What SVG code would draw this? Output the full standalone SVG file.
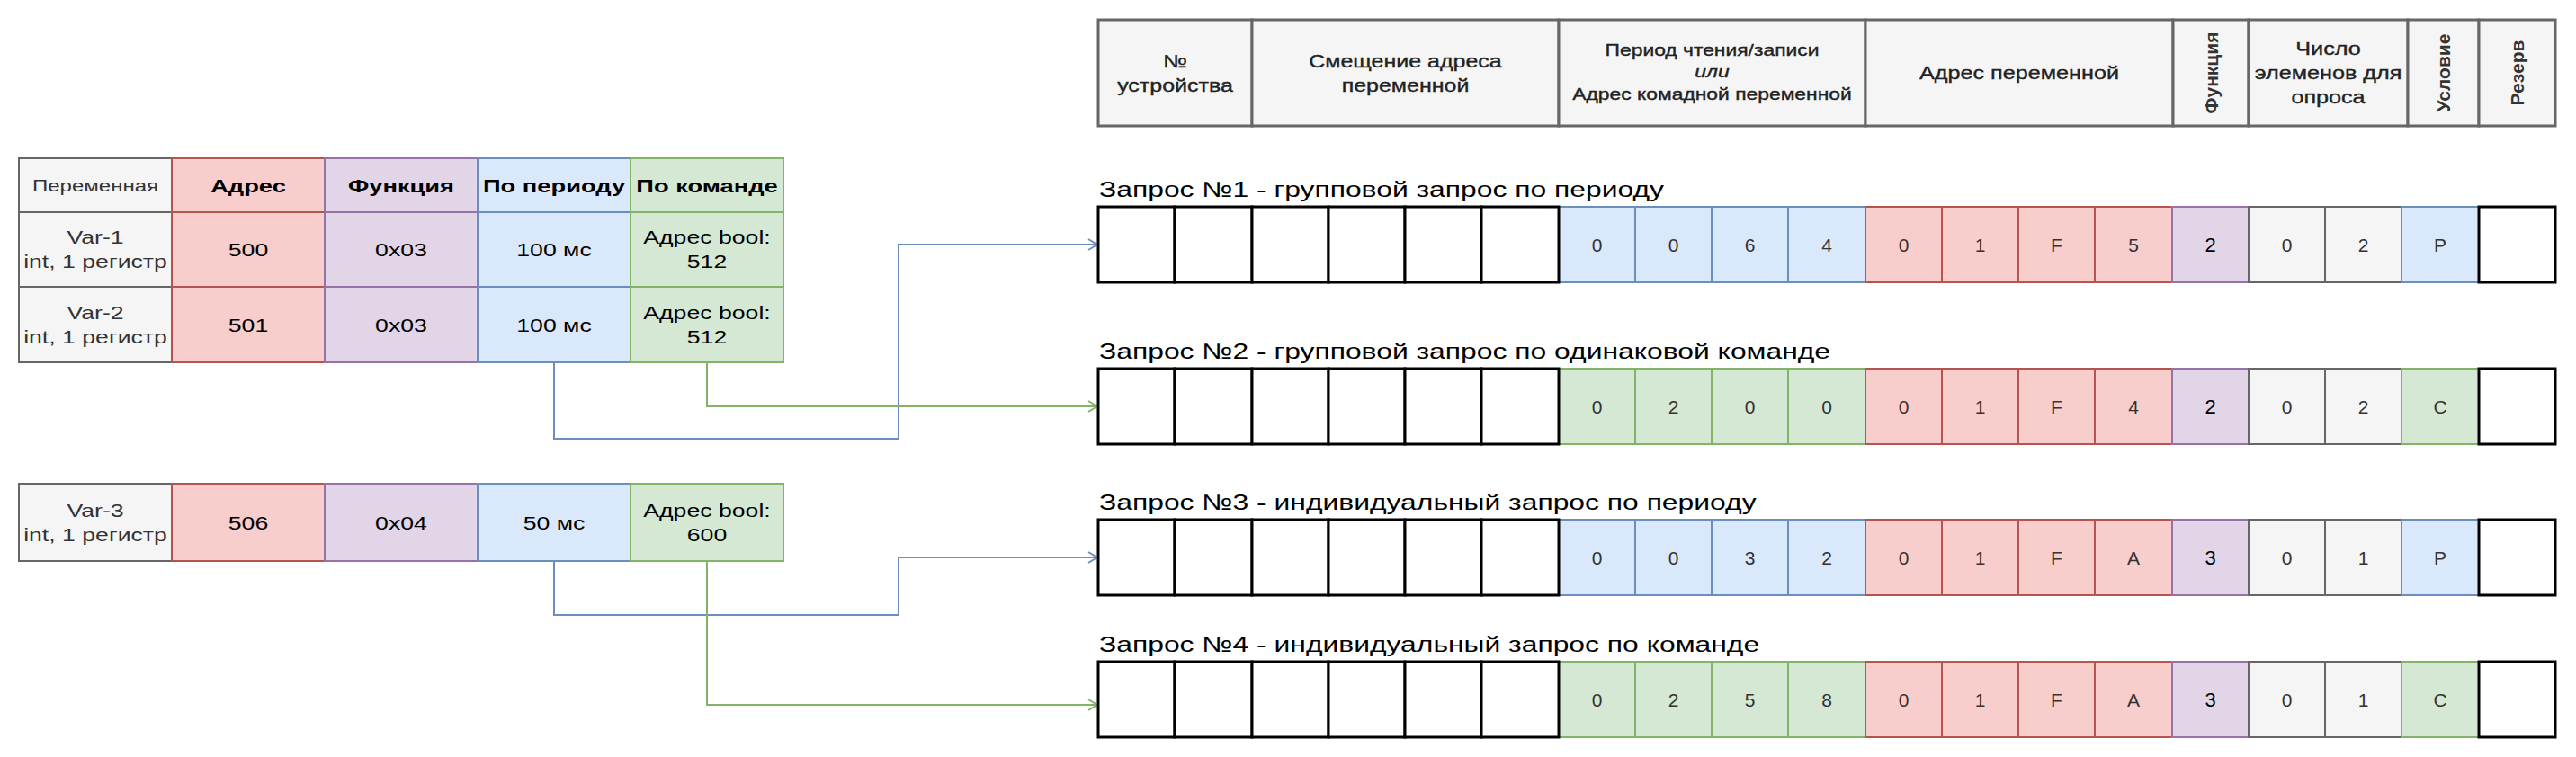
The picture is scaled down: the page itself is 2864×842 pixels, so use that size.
<svg xmlns="http://www.w3.org/2000/svg" width="2864" height="842" viewBox="0 0 2864 842">
<defs>
<style>
text{font-family:"Liberation Sans",Arial,sans-serif;}
.cg{fill:#f5f5f5;stroke:#666666;stroke-width:2}
.cr{fill:#f8cecc;stroke:#b85450;stroke-width:2}
.cp{fill:#e1d5e7;stroke:#9673a6;stroke-width:2}
.cb{fill:#dae8fc;stroke:#6c8ebf;stroke-width:2}
.cn{fill:#d5e8d4;stroke:#82b366;stroke-width:2}
.ck{fill:#ffffff;stroke:#000000;stroke-width:3}
.hd{fill:#f5f5f5;stroke:#666666;stroke-width:3}
.tb{font-size:20.5px;text-anchor:middle;fill:#000}
.tg{font-size:20.5px;text-anchor:middle;fill:#333}
.th{font-size:21px;font-weight:bold;text-anchor:middle;fill:#000}
.tv{font-size:18.5px;text-anchor:middle;fill:#333}
.hh{font-size:20px;text-anchor:middle;fill:#222;stroke:#222;stroke-width:0.35px}
.hs{font-size:18px;text-anchor:middle;fill:#222;stroke:#222;stroke-width:0.35px}
.vb{font-size:21px;font-weight:bold;text-anchor:middle;fill:#333}
.ti{font-size:24.5px;fill:#000}
.d{font-size:21px;text-anchor:middle;fill:#333}
.dp{font-size:22px;text-anchor:middle;fill:#000}
.lb{fill:none;stroke:#6c8ebf;stroke-width:2}
.lg{fill:none;stroke:#82b366;stroke-width:2}
</style>
<marker id="ab" viewBox="0 0 12 14" refX="11" refY="7" markerWidth="12" markerHeight="14" markerUnits="userSpaceOnUse" orient="auto"><path d="M1,1 L11,7 L1,13" fill="none" stroke="#6c8ebf" stroke-width="2"/></marker>
<marker id="ag" viewBox="0 0 12 14" refX="11" refY="7" markerWidth="12" markerHeight="14" markerUnits="userSpaceOnUse" orient="auto"><path d="M1,1 L11,7 L1,13" fill="none" stroke="#82b366" stroke-width="2"/></marker>
</defs>
<rect width="2864" height="842" fill="#ffffff"/>

<g id="vars-table-1">
<rect class="cg" x="21" y="176" width="170" height="60"/>
<rect class="cr" x="191" y="176" width="170" height="60"/>
<rect class="cp" x="361" y="176" width="170" height="60"/>
<rect class="cb" x="531" y="176" width="170" height="60"/>
<rect class="cn" x="701" y="176" width="170" height="60"/>
<rect class="cg" x="21" y="236" width="170" height="83"/>
<rect class="cr" x="191" y="236" width="170" height="83"/>
<rect class="cp" x="361" y="236" width="170" height="83"/>
<rect class="cb" x="531" y="236" width="170" height="83"/>
<rect class="cn" x="701" y="236" width="170" height="83"/>
<rect class="cg" x="21" y="319" width="170" height="84"/>
<rect class="cr" x="191" y="319" width="170" height="84"/>
<rect class="cp" x="361" y="319" width="170" height="84"/>
<rect class="cb" x="531" y="319" width="170" height="84"/>
<rect class="cn" x="701" y="319" width="170" height="84"/>
<text class="tv" transform="translate(106 212.5) scale(1.3 1)">Переменная</text>
<text class="th" transform="translate(276 213.5) scale(1.3 1)">Адрес</text>
<text class="th" transform="translate(446 213.5) scale(1.3 1)">Функция</text>
<text class="th" transform="translate(616 213.5) scale(1.3 1)">По периоду</text>
<text class="th" transform="translate(786 213.5) scale(1.3 1)">По команде</text>
<text class="tg" transform="translate(106 271) scale(1.3 1)">Var-1</text>
<text class="tg" transform="translate(106 298) scale(1.3 1)">int, 1 регистр</text>
<text class="tb" transform="translate(276 285) scale(1.3 1)">500</text>
<text class="tb" transform="translate(446 285) scale(1.3 1)">0x03</text>
<text class="tb" transform="translate(616 285) scale(1.3 1)">100 мс</text>
<text class="tb" transform="translate(786 271) scale(1.3 1)">Адрес bool:</text>
<text class="tb" transform="translate(786 298) scale(1.3 1)">512</text>
<text class="tg" transform="translate(106 354.5) scale(1.3 1)">Var-2</text>
<text class="tg" transform="translate(106 381.5) scale(1.3 1)">int, 1 регистр</text>
<text class="tb" transform="translate(276 368.5) scale(1.3 1)">501</text>
<text class="tb" transform="translate(446 368.5) scale(1.3 1)">0x03</text>
<text class="tb" transform="translate(616 368.5) scale(1.3 1)">100 мс</text>
<text class="tb" transform="translate(786 354.5) scale(1.3 1)">Адрес bool:</text>
<text class="tb" transform="translate(786 381.5) scale(1.3 1)">512</text>
</g>

<g id="vars-table-2">
<rect class="cg" x="21" y="538" width="170" height="86"/>
<rect class="cr" x="191" y="538" width="170" height="86"/>
<rect class="cp" x="361" y="538" width="170" height="86"/>
<rect class="cb" x="531" y="538" width="170" height="86"/>
<rect class="cn" x="701" y="538" width="170" height="86"/>
<text class="tg" transform="translate(106 574.5) scale(1.3 1)">Var-3</text>
<text class="tg" transform="translate(106 601.5) scale(1.3 1)">int, 1 регистр</text>
<text class="tb" transform="translate(276 588.5) scale(1.3 1)">506</text>
<text class="tb" transform="translate(446 588.5) scale(1.3 1)">0x04</text>
<text class="tb" transform="translate(616 588.5) scale(1.3 1)">50 мс</text>
<text class="tb" transform="translate(786 574.5) scale(1.3 1)">Адрес bool:</text>
<text class="tb" transform="translate(786 601.5) scale(1.3 1)">600</text>
</g>

<g id="connectors">
<path class="lb" d="M616 403 V488 H999 V272 H1220" marker-end="url(#ab)"/>
<path class="lg" d="M786 403 V452 H1220" marker-end="url(#ag)"/>
<path class="lb" d="M616 624 V684 H999 V620 H1220" marker-end="url(#ab)"/>
<path class="lg" d="M786 624 V784 H1220" marker-end="url(#ag)"/>
</g>

<g id="frame-header">
<rect class="hd" x="1221" y="22" width="171" height="118"/>
<rect class="hd" x="1392" y="22" width="341" height="118"/>
<rect class="hd" x="1733" y="22" width="341" height="118"/>
<rect class="hd" x="2074" y="22" width="342" height="118"/>
<rect class="hd" x="2416" y="22" width="84" height="118"/>
<rect class="hd" x="2500" y="22" width="177" height="118"/>
<rect class="hd" x="2677" y="22" width="79" height="118"/>
<rect class="hd" x="2756" y="22" width="85" height="118"/>
<text class="hh" transform="translate(1306.5 75) scale(1.25 1)">№</text>
<text class="hh" transform="translate(1306.5 102) scale(1.25 1)">устройства</text>
<text class="hh" transform="translate(1562.5 75) scale(1.25 1)">Смещение адреса</text>
<text class="hh" transform="translate(1562.5 102) scale(1.25 1)">переменной</text>
<text class="hs" transform="translate(1903.5 61.5) scale(1.27 1)">Период чтения/записи</text>
<text class="hs" transform="translate(1903.5 85.5) scale(1.27 1)" font-style="italic">или</text>
<text class="hs" transform="translate(1903.5 110.5) scale(1.27 1)">Адрес комадной переменной</text>
<text class="hh" transform="translate(2245 88) scale(1.26 1)">Адрес переменной</text>
<text class="vb" transform="translate(2465.5 81) rotate(-90)">Функция</text>
<text class="hh" transform="translate(2588.5 61) scale(1.26 1)">Число</text>
<text class="hh" transform="translate(2588.5 88) scale(1.26 1)">элеменов для</text>
<text class="hh" transform="translate(2588.5 115) scale(1.26 1)">опроса</text>
<text class="vb" transform="translate(2724 81) rotate(-90)">Условие</text>
<text class="vb" transform="translate(2806 81) rotate(-90)">Резерв</text>
</g>

<g id="request-1">
<text class="ti" transform="translate(1222 219) scale(1.3 1)">Запрос №1 - групповой запрос по периоду</text>
<rect class="cb" x="1733" y="230" width="85" height="84"/>
<rect class="cb" x="1818" y="230" width="85" height="84"/>
<rect class="cb" x="1903" y="230" width="85" height="84"/>
<rect class="cb" x="1988" y="230" width="86" height="84"/>
<rect class="cr" x="2074" y="230" width="85" height="84"/>
<rect class="cr" x="2159" y="230" width="85" height="84"/>
<rect class="cr" x="2244" y="230" width="85" height="84"/>
<rect class="cr" x="2329" y="230" width="86" height="84"/>
<rect class="cp" x="2415" y="230" width="85" height="84"/>
<rect class="cg" x="2500" y="230" width="85" height="84"/>
<rect class="cg" x="2585" y="230" width="85" height="84"/>
<rect class="cb" x="2670" y="230" width="86" height="84"/>
<rect class="ck" x="1221" y="230" width="85" height="84"/>
<rect class="ck" x="1306" y="230" width="86" height="84"/>
<rect class="ck" x="1392" y="230" width="85" height="84"/>
<rect class="ck" x="1477" y="230" width="85" height="84"/>
<rect class="ck" x="1562" y="230" width="85" height="84"/>
<rect class="ck" x="1647" y="230" width="86" height="84"/>
<rect class="ck" x="2756" y="230" width="85" height="84"/>
<text class="d" x="1775.5" y="279.5">0</text>
<text class="d" x="1860.5" y="279.5">0</text>
<text class="d" x="1945.5" y="279.5">6</text>
<text class="d" x="2031" y="279.5">4</text>
<text class="d" x="2116.5" y="279.5">0</text>
<text class="d" x="2201.5" y="279.5">1</text>
<text class="d" x="2286.5" y="279.5">F</text>
<text class="d" x="2372" y="279.5">5</text>
<text class="dp" x="2457.5" y="280">2</text>
<text class="d" x="2542.5" y="279.5">0</text>
<text class="d" x="2627.5" y="279.5">2</text>
<text class="d" x="2713" y="279.5">P</text>
</g>

<g id="request-2">
<text class="ti" transform="translate(1222 399) scale(1.3 1)">Запрос №2 - групповой запрос по одинаковой команде</text>
<rect class="cn" x="1733" y="410" width="85" height="84"/>
<rect class="cn" x="1818" y="410" width="85" height="84"/>
<rect class="cn" x="1903" y="410" width="85" height="84"/>
<rect class="cn" x="1988" y="410" width="86" height="84"/>
<rect class="cr" x="2074" y="410" width="85" height="84"/>
<rect class="cr" x="2159" y="410" width="85" height="84"/>
<rect class="cr" x="2244" y="410" width="85" height="84"/>
<rect class="cr" x="2329" y="410" width="86" height="84"/>
<rect class="cp" x="2415" y="410" width="85" height="84"/>
<rect class="cg" x="2500" y="410" width="85" height="84"/>
<rect class="cg" x="2585" y="410" width="85" height="84"/>
<rect class="cn" x="2670" y="410" width="86" height="84"/>
<rect class="ck" x="1221" y="410" width="85" height="84"/>
<rect class="ck" x="1306" y="410" width="86" height="84"/>
<rect class="ck" x="1392" y="410" width="85" height="84"/>
<rect class="ck" x="1477" y="410" width="85" height="84"/>
<rect class="ck" x="1562" y="410" width="85" height="84"/>
<rect class="ck" x="1647" y="410" width="86" height="84"/>
<rect class="ck" x="2756" y="410" width="85" height="84"/>
<text class="d" x="1775.5" y="459.5">0</text>
<text class="d" x="1860.5" y="459.5">2</text>
<text class="d" x="1945.5" y="459.5">0</text>
<text class="d" x="2031" y="459.5">0</text>
<text class="d" x="2116.5" y="459.5">0</text>
<text class="d" x="2201.5" y="459.5">1</text>
<text class="d" x="2286.5" y="459.5">F</text>
<text class="d" x="2372" y="459.5">4</text>
<text class="dp" x="2457.5" y="460">2</text>
<text class="d" x="2542.5" y="459.5">0</text>
<text class="d" x="2627.5" y="459.5">2</text>
<text class="d" x="2713" y="459.5">C</text>
</g>

<g id="request-3">
<text class="ti" transform="translate(1222 567) scale(1.3 1)">Запрос №3 - индивидуальный запрос по периоду</text>
<rect class="cb" x="1733" y="578" width="85" height="84"/>
<rect class="cb" x="1818" y="578" width="85" height="84"/>
<rect class="cb" x="1903" y="578" width="85" height="84"/>
<rect class="cb" x="1988" y="578" width="86" height="84"/>
<rect class="cr" x="2074" y="578" width="85" height="84"/>
<rect class="cr" x="2159" y="578" width="85" height="84"/>
<rect class="cr" x="2244" y="578" width="85" height="84"/>
<rect class="cr" x="2329" y="578" width="86" height="84"/>
<rect class="cp" x="2415" y="578" width="85" height="84"/>
<rect class="cg" x="2500" y="578" width="85" height="84"/>
<rect class="cg" x="2585" y="578" width="85" height="84"/>
<rect class="cb" x="2670" y="578" width="86" height="84"/>
<rect class="ck" x="1221" y="578" width="85" height="84"/>
<rect class="ck" x="1306" y="578" width="86" height="84"/>
<rect class="ck" x="1392" y="578" width="85" height="84"/>
<rect class="ck" x="1477" y="578" width="85" height="84"/>
<rect class="ck" x="1562" y="578" width="85" height="84"/>
<rect class="ck" x="1647" y="578" width="86" height="84"/>
<rect class="ck" x="2756" y="578" width="85" height="84"/>
<text class="d" x="1775.5" y="627.5">0</text>
<text class="d" x="1860.5" y="627.5">0</text>
<text class="d" x="1945.5" y="627.5">3</text>
<text class="d" x="2031" y="627.5">2</text>
<text class="d" x="2116.5" y="627.5">0</text>
<text class="d" x="2201.5" y="627.5">1</text>
<text class="d" x="2286.5" y="627.5">F</text>
<text class="d" x="2372" y="627.5">A</text>
<text class="dp" x="2457.5" y="628">3</text>
<text class="d" x="2542.5" y="627.5">0</text>
<text class="d" x="2627.5" y="627.5">1</text>
<text class="d" x="2713" y="627.5">P</text>
</g>

<g id="request-4">
<text class="ti" transform="translate(1222 725) scale(1.3 1)">Запрос №4 - индивидуальный запрос по команде</text>
<rect class="cn" x="1733" y="736" width="85" height="84"/>
<rect class="cn" x="1818" y="736" width="85" height="84"/>
<rect class="cn" x="1903" y="736" width="85" height="84"/>
<rect class="cn" x="1988" y="736" width="86" height="84"/>
<rect class="cr" x="2074" y="736" width="85" height="84"/>
<rect class="cr" x="2159" y="736" width="85" height="84"/>
<rect class="cr" x="2244" y="736" width="85" height="84"/>
<rect class="cr" x="2329" y="736" width="86" height="84"/>
<rect class="cp" x="2415" y="736" width="85" height="84"/>
<rect class="cg" x="2500" y="736" width="85" height="84"/>
<rect class="cg" x="2585" y="736" width="85" height="84"/>
<rect class="cn" x="2670" y="736" width="86" height="84"/>
<rect class="ck" x="1221" y="736" width="85" height="84"/>
<rect class="ck" x="1306" y="736" width="86" height="84"/>
<rect class="ck" x="1392" y="736" width="85" height="84"/>
<rect class="ck" x="1477" y="736" width="85" height="84"/>
<rect class="ck" x="1562" y="736" width="85" height="84"/>
<rect class="ck" x="1647" y="736" width="86" height="84"/>
<rect class="ck" x="2756" y="736" width="85" height="84"/>
<text class="d" x="1775.5" y="785.5">0</text>
<text class="d" x="1860.5" y="785.5">2</text>
<text class="d" x="1945.5" y="785.5">5</text>
<text class="d" x="2031" y="785.5">8</text>
<text class="d" x="2116.5" y="785.5">0</text>
<text class="d" x="2201.5" y="785.5">1</text>
<text class="d" x="2286.5" y="785.5">F</text>
<text class="d" x="2372" y="785.5">A</text>
<text class="dp" x="2457.5" y="786">3</text>
<text class="d" x="2542.5" y="785.5">0</text>
<text class="d" x="2627.5" y="785.5">1</text>
<text class="d" x="2713" y="785.5">C</text>
</g>
</svg>
